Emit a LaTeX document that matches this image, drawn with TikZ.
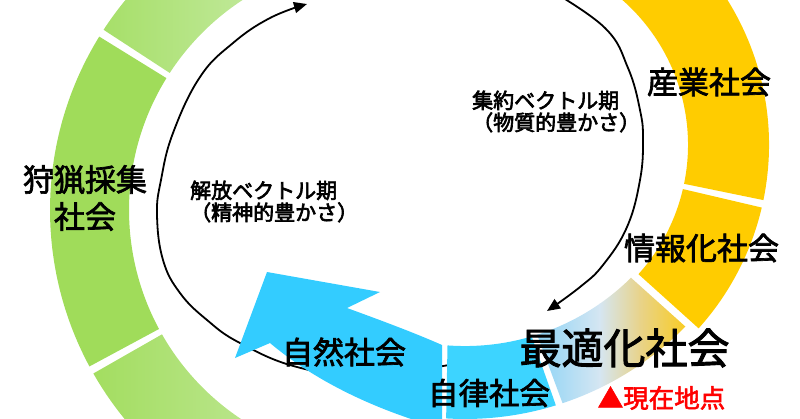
\documentclass[tikz,border=0pt]{standalone}
\usepackage{fontspec}
\setmainfont{Noto Sans CJK JP}
\newfontfamily\jpbig{Noto Sans CJK JP}[FakeBold=2.2]
\newfontfamily\jpsmall{Noto Sans CJK JP}[FakeBold=3]
\usetikzlibrary{calc,arrows.meta}
\definecolor{gmain}{HTML}{A0DC5A}
\definecolor{gtopL}{HTML}{A6DF68}
\definecolor{gtopR}{HTML}{BFE897}
\definecolor{gbotL}{HTML}{A2DD5E}
\definecolor{gbotR}{HTML}{B9E58A}
\definecolor{yel}{HTML}{FFCC00}
\definecolor{blu}{HTML}{33CCFF}
\definecolor{blub}{HTML}{3DD4FF}
\definecolor{gr1}{HTML}{86D2F6}
\definecolor{gr2}{HTML}{D5E6F2}
\definecolor{gr3}{HTML}{E8D38A}
\definecolor{gr4}{HTML}{FCCB10}
\definecolor{redtxt}{HTML}{FF0000}
\begin{document}
\begin{tikzpicture}[x=1pt,y=-1pt,
  curve/.style={line width=1.8pt, black},
  tipA/.style={-{Triangle[length=13pt,width=11pt]}},
  big/.style={inner sep=0pt, font=\jpbig\fontsize{31}{37}\selectfont, align=center},
  small/.style={inner sep=0pt, font=\jpsmall\fontsize{21}{22}\selectfont, align=left, anchor=west}]
\useasboundingbox (0,0) rectangle (800,418);
\clip (0,0) rectangle (800,418);
\coordinate (G) at (380,210);
\coordinate (Y) at (495,145);
\coordinate (B) at (465,110);
% green main
\fill[gmain] ($(G)+(151.7:330)$) arc[start angle=151.7,end angle=211.7,radius=330] -- ($(G)+(211.7:251)$) arc[start angle=211.7,end angle=151.7,radius=251] -- cycle;
% green top
\begin{scope}
\clip ($(G)+(213.1:330)$) arc[start angle=213.1,end angle=265,radius=330] -- ($(G)+(265:251)$) arc[start angle=265,end angle=213.1,radius=251] -- cycle;
\shade[left color=gtopL,right color=gtopR] (100,-10) rectangle (245,95);
\end{scope}
% green bottom
\begin{scope}
\clip ($(G)+(95:330)$) arc[start angle=95,end angle=150.3,radius=330] -- ($(G)+(150.3:251)$) arc[start angle=150.3,end angle=95,radius=251] -- cycle;
\shade[left color=gbotL,right color=gbotR] (85,325) rectangle (245,425);
\end{scope}
% black curves
\coordinate (Ls) at (475,360);
\coordinate (Le) at (307,4);
\coordinate (Rs) at (550,-10);
\coordinate (Re) at (547,311);
\draw[curve,tipA] plot[smooth,tension=0.7] coordinates {(Ls) (443,366) (370,377) (297,367) (240,343) (207,320) (180,293) (163,260) (157,215) (161,180) (173,133) (200,77) (233,43) (270,18) (Le)};
\draw[curve,tipA] plot[smooth,tension=0.7] coordinates {(Rs) (605,28) (628,68) (640,110) (643,140) (640,180) (627,227) (603,265) (580,287) (Re)};
% yellow
\fill[yel] ($(Y)+(-75:274)$) arc[start angle=-75,end angle=11.6,radius=274] -- ($(Y)+(11.6:193)$) arc[start angle=11.6,end angle=-75,radius=193] -- cycle;
\fill[yel] ($(Y)+(13.2:274)$) arc[start angle=13.2,end angle=42,radius=274] -- ($(Y)+(42:193)$) arc[start angle=42,end angle=13.2,radius=193] -- cycle;
% gradient segment
\begin{scope}
\clip ($(B)+(44.5:309)$) arc[start angle=44.5,end angle=71.6,radius=309] -- ($(B)+(72.2:236)$) arc[start angle=72.2,end angle=45.3,radius=236] -- cycle;
\shade[left color=gr1,right color=gr2] (530,270) rectangle (600,420);
\shade[left color=gr2,right color=gr3] (599.5,270) rectangle (640,420);
\shade[left color=gr3,right color=gr4] (639.5,270) rectangle (695,420);
\end{scope}
% autonomous segment
\fill[blub] ($(B)+(72.9:309)$) arc[start angle=72.9,end angle=93.5,radius=309] -- (447.5,345.4) arc[start angle=94.25,end angle=73.6,radius=236] -- cycle;
% big arrow
\fill[blu] (442,345) .. controls (415,333) and (380,320) .. (347,308) -- (380,292) -- (267,272) -- (235,358) -- (270,343) .. controls (320,385) and (380,410) .. (430,425) -- (442,425) -- cycle;
% labels
\node[big] (hunt) at (85,198) {狩猟採集\\社会};
\node[big] (ind) at (709,82) {産業社会};
\node[big] (info) at (701.5,248) {情報化社会};
\node[big, font=\jpbig\fontsize{42}{42}\selectfont] (opt) at (624.5,348) {最適化社会};
\node[big, font=\jpbig\fontsize{30.5}{30.5}\selectfont] (auto) at (489,393) {自律社会};
\node[big] (nat) at (344,352) {自然社会};
\node[big, text=redtxt, font=\jpbig\fontsize{25.5}{25.5}\selectfont] (now) at (661.5,398) {▲現在地点};
\node[small] (lib) at (190,201.5) {解放ベクトル期\\（精神的豊かさ）};
\node[small] (agg) at (472,111.5) {集約ベクトル期\\（物質的豊かさ）};
\end{tikzpicture}
\end{document}
